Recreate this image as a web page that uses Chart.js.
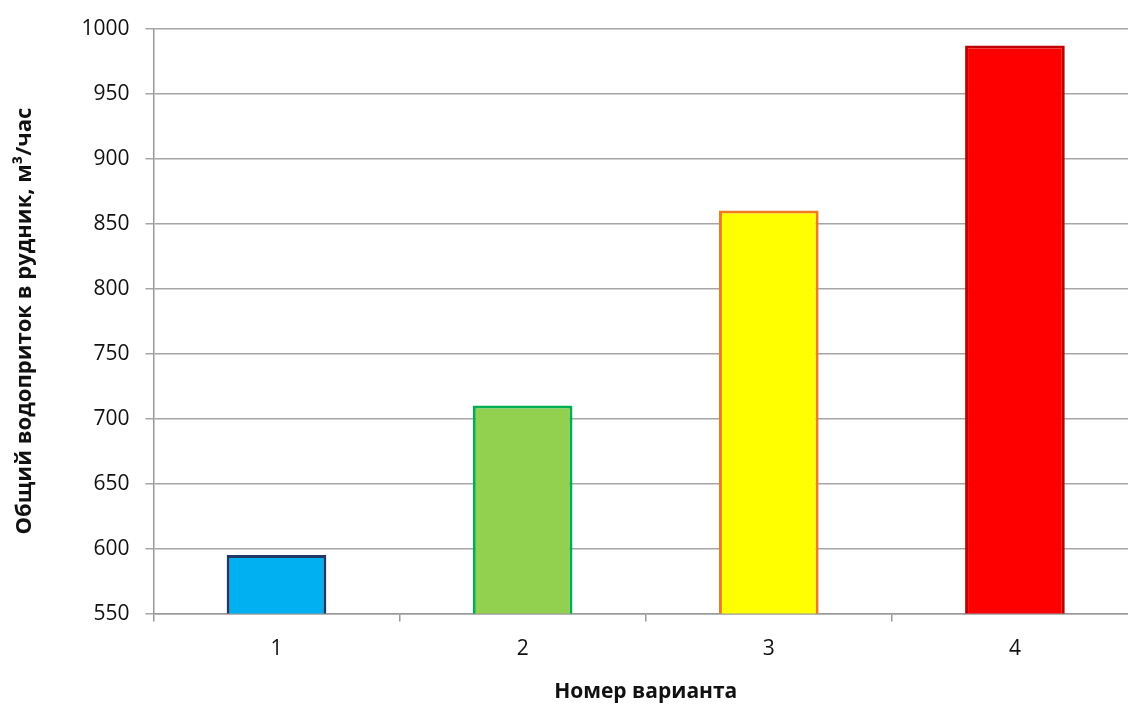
<!DOCTYPE html>
<html>
<head>
<meta charset="utf-8">
<script src="https://cdn.jsdelivr.net/npm/chart.js@4"></script>
<style>
  html, body { margin: 0; padding: 0; background: #fff; overflow: hidden; }
  #wrap { position: relative; width: 1138px; height: 705px; }
</style>
</head>
<body>
<div id="wrap"><canvas id="chart"></canvas></div>
<script>
// water inflow per variant, m3/h
const variants = ['1', '2', '3', '4'];
const inflow   = [595, 710, 860, 987];
const fills    = ['#00b0f0', '#92d050', '#ffff00', '#ff0000'];
const borders  = ['#1f3864', '#00b050', '#f07a1e', '#c00000'];
const yTicks   = [550, 600, 650, 700, 750, 800, 850, 900, 950, 1000];

const FONT = "'Open Sans', 'Liberation Sans', sans-serif";

new Chart(document.getElementById('chart').getContext('2d'), {
  type: 'bar',
  data: {
    labels: variants,
    datasets: [{
      data: inflow,
      backgroundColor: fills,
      borderColor: borders,
      borderWidth: 3,
      borderSkipped: false,
      categoryPercentage: 1,
      barPercentage: 0.405,
    }],
  },
  options: {
    responsive: true,
    maintainAspectRatio: false,
    animation: false,
    layout: { padding: { top: 6, right: 0, bottom: 0, left: 4 } },
    plugins: { legend: { display: false }, tooltip: { enabled: false } },
    scales: {
      x: {
        grid: { drawOnChartArea: false, drawTicks: true, tickLength: 8, color: '#9a9a9a', lineWidth: 1.5 },
        border: { color: '#9a9a9a', width: 1.5 },
        ticks: { color: '#111', font: { family: FONT, size: 21 }, padding: 15 },
        title: {
          display: true,
          text: 'Номер варианта',
          color: '#111',
          font: { family: FONT, size: 21, weight: 'bold' },
          padding: { top: 3, bottom: 0 },
        },
      },
      y: {
        min: yTicks[0],
        max: yTicks[yTicks.length - 1],
        afterBuildTicks: axis => { axis.ticks = yTicks.map(v => ({ value: v })); },
        grid: { color: '#a6a6a6', lineWidth: 1.5, tickLength: 8 },
        border: { color: '#9a9a9a', width: 1.5 },
        ticks: { color: '#111', font: { family: FONT, size: 21 }, padding: 16, callback: v => String(v) },
        title: {
          display: true,
          text: 'Общий водоприток в рудник, м³/час',
          color: '#111',
          font: { family: FONT, size: 22, weight: 'bold' },
          padding: { top: 8, bottom: 27 },
        },
      },
    },
  },
});
</script>
</body>
</html>
